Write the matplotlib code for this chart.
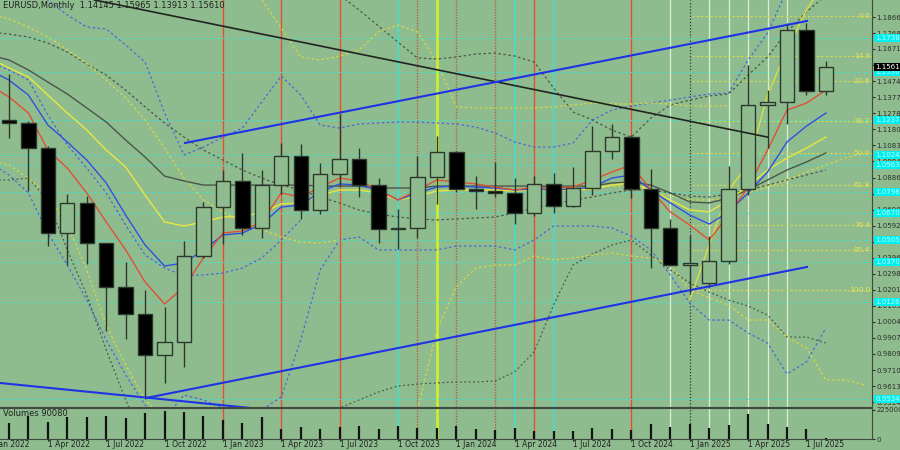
import matplotlib

matplotlib.use("Agg")
import matplotlib.pyplot as plt  # noqa: E402
from matplotlib.patches import Rectangle  # noqa: E402
import numpy as np  # noqa: E402

nan = np.nan
BG = "#8fbc8f"

# monthly candles, index 0 = Jan 2022 ... 43 = Aug 2025
OPEN = [1.1370, 1.1236, 1.1219, 1.1067, 1.0545, 1.0733, 1.0484, 1.0220, 1.0054, 0.9802,
        0.9882, 1.0406, 1.0705, 1.0863, 1.0576, 1.0839, 1.1020, 1.0690, 1.0910, 1.0997,
        1.0843, 1.0573, 1.0575, 1.0887, 1.1039, 1.0819, 1.0805, 1.0790, 1.0667, 1.0848,
        1.0713, 1.0825, 1.1047, 1.1135, 1.0816, 1.0577, 1.0354, 1.0240, 1.0375, 1.0815,
        1.1327, 1.1347, 1.1787, 1.14145]
HIGH = [1.1483, 1.1518, 1.1233, 1.1076, 1.0787, 1.0773, 1.0486, 1.0369, 1.0198, 1.0094,
        1.0497, 1.0736, 1.0929, 1.1033, 1.0930, 1.1095, 1.1092, 1.0975, 1.1276, 1.1065,
        1.0882, 1.0695, 1.1017, 1.1140, 1.1046, 1.0898, 1.0981, 1.0885, 1.0895, 1.0916,
        1.0948, 1.1202, 1.1214, 1.1144, 1.0937, 1.0630, 1.0533, 1.0528, 1.0954, 1.1573,
        1.1419, 1.1829, 1.1830, 1.15965]
LOW = [1.1121, 1.1127, 1.0806, 1.0471, 1.0349, 1.0359, 0.9952, 0.9901, 0.9536, 0.9632,
       0.9730, 1.0393, 1.0483, 1.0533, 1.0516, 1.0788, 1.0635, 1.0662, 1.0834, 1.0766,
       1.0488, 1.0448, 1.0516, 1.0724, 1.0795, 1.0695, 1.0768, 1.0601, 1.0650, 1.0668,
       1.0709, 1.0777, 1.0999, 1.0761, 1.0333, 1.0344, 1.0178, 1.0211, 1.0360, 1.0777,
       1.1065, 1.1210, 1.1392, 1.13913]
CLOSE = [1.1235, 1.1219, 1.1067, 1.0545, 1.0733, 1.0484, 1.0220, 1.0054, 0.9802, 0.9882,
         1.0406, 1.0705, 1.0863, 1.0576, 1.0839, 1.1020, 1.0690, 1.0910, 1.0997, 1.0843,
         1.0573, 1.0575, 1.0887, 1.1039, 1.0819, 1.0805, 1.0790, 1.0667, 1.0848, 1.0713,
         1.0825, 1.1047, 1.1135, 1.0816, 1.0577, 1.0354, 1.0362, 1.0375, 1.0815, 1.1327,
         1.1347, 1.1787, 1.1415, 1.15610]
VOLUME = [150000, 123000, 181000, 131000, 167000, 167000, 174000, 160000, 203000, 218000,
          210000, 174000, 145000, 123000, 167000, 80000, 94000, 80000, 94000, 102000,
          80000, 102000, 87000, 87000, 102000, 80000, 73000, 87000, 65000, 58000,
          65000, 87000, 80000, 73000, 116000, 94000, 116000, 87000, 109000, 196000,
          116000, 94000, 80000, 7000]

# indicator lines
RED_MA = [1.1451, 1.1378, 1.1280, 1.1054, 1.0944, 1.0792, 1.0615, 1.0444, 1.0248, 1.0114,
          1.0218, 1.0395, 1.0547, 1.0560, 1.0615, 1.0792, 1.0767, 1.0828, 1.0883, 1.0865,
          1.0810, 1.0749, 1.0810, 1.0871, 1.0859, 1.0847, 1.0828, 1.0810, 1.0828, 1.0822,
          1.0828, 1.0871, 1.0920, 1.0963, 1.0810, 1.0676, 1.0596, 1.0505, 1.0657, 1.0828,
          1.1054, 1.1298, 1.1341, 1.1420]
BLUE_MA = [1.1543, 1.1481, 1.1390, 1.1207, 1.1103, 1.0993, 1.0853, 1.0657, 1.0474, 1.0346,
           1.0364, 1.0444, 1.0535, 1.0547, 1.0602, 1.0706, 1.0718, 1.0798, 1.0847, 1.0840,
           1.0810, 1.0749, 1.0792, 1.0828, 1.0834, 1.0828, 1.0822, 1.0810, 1.0816, 1.0810,
           1.0816, 1.0828, 1.0883, 1.0902, 1.0810, 1.0731, 1.0657, 1.0602, 1.0676, 1.0792,
           1.0920, 1.1103, 1.1200, 1.1280]
YELLOW_MA = [1.1616, 1.1555, 1.1500, 1.1390, 1.1280, 1.1176, 1.1054, 1.0950, 1.0779, 1.0615,
             1.0590, 1.0615, 1.0645, 1.0651, 1.0670, 1.0725, 1.0731, 1.0779, 1.0810, 1.0810,
             1.0792, 1.0749, 1.0773, 1.0804, 1.0810, 1.0810, 1.0810, 1.0804, 1.0810, 1.0810,
             1.0810, 1.0816, 1.0840, 1.0853, 1.0810, 1.0749, 1.0688, 1.0676, 1.0749, 1.0834,
             1.0932, 1.1005, 1.1066, 1.1133]
DARK_MA = [1.1634, 1.1604, 1.1543, 1.1469, 1.1396, 1.1311, 1.1225, 1.1115, 1.1011, 1.0895,
           1.0865, 1.0840, 1.0840, 1.0840, 1.0840, 1.0840, 1.0840, 1.0834, 1.0834, 1.0834,
           1.0822, 1.0822, 1.0822, 1.0834, 1.0834, 1.0834, 1.0834, 1.0834, 1.0834, 1.0834,
           1.0834, 1.0834, 1.0853, 1.0859, 1.0840, 1.0792, 1.0737, 1.0731, 1.0761, 1.0810,
           1.0871, 1.0932, 1.0981, 1.1036]
BLUE_UP = [1.2200, 1.2153, 1.2061, 1.1970, 1.1878, 1.1805, 1.1793, 1.1695, 1.1591, 1.1280,
           1.1024, 1.1072, 1.1133, 1.1188, 1.1347, 1.1506, 1.1390, 1.1207, 1.1188, 1.1213,
           1.1219, 1.1225, 1.1225, 1.1219, 1.1213, 1.1194, 1.1158, 1.1103, 1.1072, 1.1072,
           1.1097, 1.1237, 1.1298, 1.1323, 1.1341, 1.1359, 1.1378, 1.1396, 1.1402, 1.1604,
           1.1768, 1.2031, 1.2214, 1.2336]
BLUE_DN = [1.0975, 1.0902, 1.0792, 1.0547, 1.0352, 1.0138, 0.9894, 0.9681, 0.9497, 0.9418,
           0.9558, 0.9528, 0.9479, 0.9467, 0.9467, 0.9546, 0.9894, 1.0322, 1.0505, 1.0523,
           1.0444, 1.0444, 1.0444, 1.0444, 1.0468, 1.0468, 1.0468, 1.0444, 1.0505, 1.0590,
           1.0590, 1.0590, 1.0578, 1.0529, 1.0444, 1.0291, 1.0120, 1.0016, 1.0016, 0.9937,
           0.9876, 0.9687, 0.9760, 0.9967]
BLUE_MID = [1.1591, 1.1543, 1.1481, 1.1268, 1.1085, 1.0944, 1.0792, 1.0596, 1.0413, 1.0334,
            1.0285, 1.0291, 1.0303, 1.0334, 1.0395, 1.0505, 1.0627] + [nan] * 27
GRAY_MID = [1.1775, 1.1762, 1.1744, 1.1707, 1.1652, 1.1579, 1.1512, 1.1420, 1.1317, 1.1219,
            1.1133, 1.1054, 1.0993, 1.0932, 1.0883, 1.0840, 1.0810, 1.0767, 1.0731, 1.0688,
            1.0663, 1.0645, 1.0633, 1.0627, 1.0633, 1.0639, 1.0645, 1.0670, 1.0700, 1.0725,
            1.0749, 1.0767, 1.0792, 1.0810, 1.0810, 1.0792, 1.0773, 1.0767, 1.0786, 1.0810,
            1.0840, 1.0871, 1.0902, 1.0932]
GRAY_UP = [nan] * 17 + [1.2092, 1.2000, 1.1909, 1.1811, 1.1713, 1.1616, 1.1610, 1.1622, 1.1640,
                        1.1646, 1.1628, 1.1591, 1.1433, 1.1286, 1.1237, 1.1176, 1.1133, 1.1249,
                        1.1329, 1.1359, 1.1384, 1.1396, 1.1512, 1.1622, 1.1775, 1.1897, 1.2000]
GRAY_DN = [1.0871, 1.0871, 1.0883, 1.0749, 1.0444, 1.0169, 0.9833, 0.9528, 0.9284] + [nan] * 8 + \
          [0.9284, 0.9479, 0.9528, 0.9577, 0.9613, 0.9625, 0.9632, 0.9638, 0.9638, 0.9644, 0.9699,
           0.9821, 1.0108, 1.0352, 1.0419, 1.0474, 1.0505, 1.0413, 1.0322, 1.0242, 1.0187, 1.0138,
           1.0102, 1.0047, 0.9912, 0.9912, 0.9876]
YEL_TOP = [nan] * 14 + [1.1970, 1.1799, 1.1622, 1.1604, 1.1628, 1.1665, 1.1775, 1.1817, 1.1775,
                        1.1591, 1.1317, 1.1311, 1.1311, 1.1311, 1.1311, 1.1317, 1.1329, 1.1341,
                        1.1335, 1.1335, 1.1341, 1.1335, 1.1323, 1.1323, 1.1323] + [nan] * 5
YEL_LEFT = [1.1884, 1.1854, 1.1805, 1.1744, 1.1665, 1.1585, 1.1481, 1.1372, 1.1237, 1.1066,
            1.0883, 1.0749, 1.0676, 1.0615, 1.0566, 1.0523, 1.0492, 1.0486, 1.0505] + [nan] * 25
YEL_DN = [1.0993, 1.0963, 1.0883, 1.0779, 1.0596, 1.0322, 0.9986, 0.9742, 0.9528, 0.9406] + \
         [nan] * 12 + \
         [0.9467, 0.9955, 1.0218, 1.0334, 1.0352, 1.0352, 1.0407, 1.0383, 1.0395, 1.0413, 1.0425,
          1.0407, 1.0395, 1.0352, 1.0199, 1.0151, 1.0108, 1.0016, 1.0016, 0.9912, 0.9845, 0.9650,
          0.9650, 0.9619]
YEL_FAST = [nan] * 36 + [1.0138, 1.0475, 1.0810, 1.0963, 1.1390, 1.1665, 1.1909, 1.2092]
YEL_SHIFT = [nan] * 30 + [1.0834, 1.0834, 1.0834, 1.0834, 1.0810, 1.0773, 1.0749, 1.0749, 1.0761,
                          1.0792, 1.0828, 1.0871, 1.0920, 1.0963, 1.1005, 1.1036]

# objects
TREND_BLACK = ([5.4, 40.0], [1.1970, 1.1133])
CHANNEL_UP = ([10.05, 42.03], [1.1097, 1.1842])
CHANNEL_DN = ([8.05, 42.03], [0.9540, 1.0340])
BLUE_DESC = ([0.0, 13.5], [0.9638, 0.9478])
FIB_TOP, FIB_BOTTOM = 1.1872, 1.0199
FIB_LEVELS = [0.0, 14.6, 23.6, 38.2, 50.0, 61.8, 76.4, 85.4, 100.0]
CYAN_LEVELS = [1.1738, 1.1530, 1.1237, 1.1024, 1.0963, 1.0798, 1.0670, 1.0505, 1.0370, 1.0126, 0.9534]
RED_VL = [12, 15, 18, 28, 33]
CYAN_VL = [21, 27, 29]
BROWN_VL = [22, 24, 26]
LIME_VL = [23]
LIGHT_VL = [35, 37, 38, 39, 40, 41]
BLACK_VL = [36]
PRICE_TICKS = [1.1866, 1.1768, 1.1671, 1.1573, 1.1474, 1.1377, 1.1278, 1.1180, 1.1083, 1.0984,
               1.0886, 1.0787, 1.0690, 1.0592, 1.0494, 1.0396, 1.0298, 1.0201, 1.0103, 1.0004,
               0.9907, 0.9809, 0.9710, 0.9613, 0.9514]
DATE_TICKS = [0, 3, 6, 9, 12, 15, 18, 21, 24, 27, 30, 33, 36, 39, 42]
DATE_LABELS = ["1 Jan 2022", "1 Apr 2022", "1 Jul 2022", "1 Oct 2022", "1 Jan 2023",
               "1 Apr 2023", "1 Jul 2023", "1 Oct 2023", "1 Jan 2024", "1 Apr 2024",
               "1 Jul 2024", "1 Oct 2024", "1 Jan 2025", "1 Apr 2025", "1 Jul 2025"]
LAST_PRICE = 1.1561

FS = 5.0

fig = plt.figure(figsize=(9, 4.5), dpi=100, facecolor=BG)
ax = fig.add_axes([0, 43 / 450, 872 / 900, 407 / 450], facecolor=BG)
axv = fig.add_axes([0, 11 / 450, 872 / 900, 31 / 450], facecolor=BG)

XLIM = (0.54, 45.37)
for a in (ax, axv):
    a.set_xlim(*XLIM)
    for s in ("left", "top"):
        a.spines[s].set_visible(False)
    a.spines["right"].set_color("#404840")
    a.spines["bottom"].set_color("#404840")
    a.set_xticks([])
    for v in RED_VL:
        a.axvline(v, color="#e8502a", lw=1, zorder=1)
    for v in CYAN_VL:
        a.axvline(v, color="#40e0d0", lw=1.2, zorder=1)
    for v in BROWN_VL:
        a.axvline(v, color="#b8603c", lw=1, ls=(0, (1, 1)), zorder=1)
    for v in LIME_VL:
        a.axvline(v, color="#c8f030", lw=2, zorder=1)
    for v in LIGHT_VL:
        a.axvline(v, color="#dcecd8", lw=0.9, zorder=1)
    for v in BLACK_VL:
        a.axvline(v, color="#303030", lw=0.9, ls=(0, (1, 1.5)), zorder=1)
axv.spines["top"].set_visible(True)
axv.spines["top"].set_color("#404840")

ax.set_ylim(0.9485, 1.1970)

for lvl in CYAN_LEVELS:
    ax.axhline(lvl, color="#40e0d0", lw=0.7, ls=(0, (3, 3)), zorder=1.5)

# fibonacci
for lv in FIB_LEVELS:
    p = FIB_TOP - (FIB_TOP - FIB_BOTTOM) * lv / 100
    ax.plot([36.1, XLIM[1]], [p, p], color="#d8d848", lw=0.8, ls=(0, (2, 2)), zorder=2)
    ax.text(0.998, p, f"{lv:.1f}", transform=ax.get_yaxis_transform(), ha="right",
            va="center", color="#e4e458", fontsize=FS + 0.3, zorder=7)

x44 = np.arange(44)
ax.plot(x44, BLUE_UP, color="#4a68d8", lw=0.9, ls=(0, (2, 2)), zorder=3)
ax.plot(x44, BLUE_DN, color="#4a68d8", lw=0.9, ls=(0, (2, 2)), zorder=3)
ax.plot(x44, BLUE_MID, color="#4a68d8", lw=0.9, ls=(0, (2, 2)), zorder=3)
ax.plot(x44, GRAY_MID, color="#4c584c", lw=0.9, ls=(0, (2, 2)), zorder=3)
ax.plot(x44, GRAY_UP, color="#4c584c", lw=0.9, ls=(0, (2, 2)), zorder=3)
ax.plot(x44, GRAY_DN, color="#4c584c", lw=0.9, ls=(0, (1.5, 2)), zorder=3)
ax.plot(x44, YEL_TOP, color="#d8d840", lw=0.9, ls=(0, (2, 2)), zorder=3)
ax.plot(x44, YEL_LEFT, color="#d8d840", lw=0.9, ls=(0, (2, 2)), zorder=3)
ax.plot(np.arange(46), YEL_DN, color="#d8d840", lw=0.9, ls=(0, (2, 2)), zorder=3)
ax.plot(x44, YEL_FAST, color="#d8e040", lw=1, zorder=3)
ax.plot(np.arange(46), YEL_SHIFT, color="#d8d840", lw=0.9, ls=(0, (2, 2)), zorder=3)
ax.plot(x44, DARK_MA, color="#4a564a", lw=1, zorder=3)
ax.plot(x44, YELLOW_MA, color="#e8e840", lw=1, zorder=3)
ax.plot(x44, BLUE_MA, color="#3050e0", lw=1, zorder=3)
ax.plot(x44, RED_MA, color="#e05034", lw=1, zorder=3)

# candles
w = 0.74
for i in range(44):
    o, h, l, c = OPEN[i], HIGH[i], LOW[i], CLOSE[i]
    ax.plot([i, i], [l, h], color="#2c382c", lw=1, zorder=5, solid_capstyle="butt")
    lo, hi = min(o, c), max(o, c)
    height = max(hi - lo, 0.0004)
    face = BG if c >= o else "black"
    ax.add_patch(Rectangle((i - w / 2, lo), w, height, facecolor=face,
                           edgecolor="#2c382c", lw=1, zorder=6))

# trend lines
ax.plot(*TREND_BLACK, color="#202420", lw=1.2, zorder=7)
ax.plot(*CHANNEL_UP, color="#1e32e6", lw=1.5, zorder=7)
ax.plot(*CHANNEL_DN, color="#1e32e6", lw=1.5, zorder=7)
ax.plot(*BLUE_DESC, color="#1e32e6", lw=1.5, zorder=7)

# right price scale
ax.yaxis.tick_right()
ax.set_yticks(PRICE_TICKS)
ax.set_yticklabels([f"{t:.4f}" for t in PRICE_TICKS])
ax.tick_params(axis="y", direction="out", length=2, pad=1, labelsize=FS,
               colors="#2a302a")
for lvl in CYAN_LEVELS:
    ax.text(1.0035, lvl, f"{lvl:.4f}", transform=ax.get_yaxis_transform(), ha="left",
            va="center", fontsize=FS, color="#c8f8f8", zorder=8, clip_on=False,
            bbox=dict(boxstyle="square,pad=0.2", fc="#00f0f0", ec="none"))
ax.text(1.0035, LAST_PRICE, f"{LAST_PRICE:.4f}", transform=ax.get_yaxis_transform(),
        ha="left", va="center", fontsize=FS, color="white", zorder=9, clip_on=False,
        bbox=dict(boxstyle="square,pad=0.2", fc="black", ec="none"))

ax.text(0.003, 0.997, "EURUSD,Monthly  1.14145 1.15965 1.13913 1.15610",
        transform=ax.transAxes, ha="left", va="top", fontsize=6, color="#202020", zorder=9)

# volumes
axv.vlines(x44, 0, VOLUME, color="#101410", lw=1.6, zorder=3)
axv.set_ylim(0, 239500)
axv.yaxis.tick_right()
axv.set_yticks([0, 225000])
axv.set_yticklabels(["0", "225000"])
axv.tick_params(axis="y", direction="out", length=2, pad=1, labelsize=FS, colors="#2a302a")
axv.text(0.003, 0.98, "Volumes 90080", transform=axv.transAxes, ha="left", va="top",
         fontsize=6, color="#202020", zorder=9)
for t, lab in zip(DATE_TICKS, DATE_LABELS):
    axv.text(t, -0.04, lab, transform=axv.get_xaxis_transform(), ha="left", va="top",
             fontsize=5.5, color="#202020", clip_on=False)
    axv.plot([t, t], [-0.06, 0], transform=axv.get_xaxis_transform(), color="#404840",
             lw=0.8, clip_on=False)

fig.savefig("out.png", dpi=100, facecolor=BG)
